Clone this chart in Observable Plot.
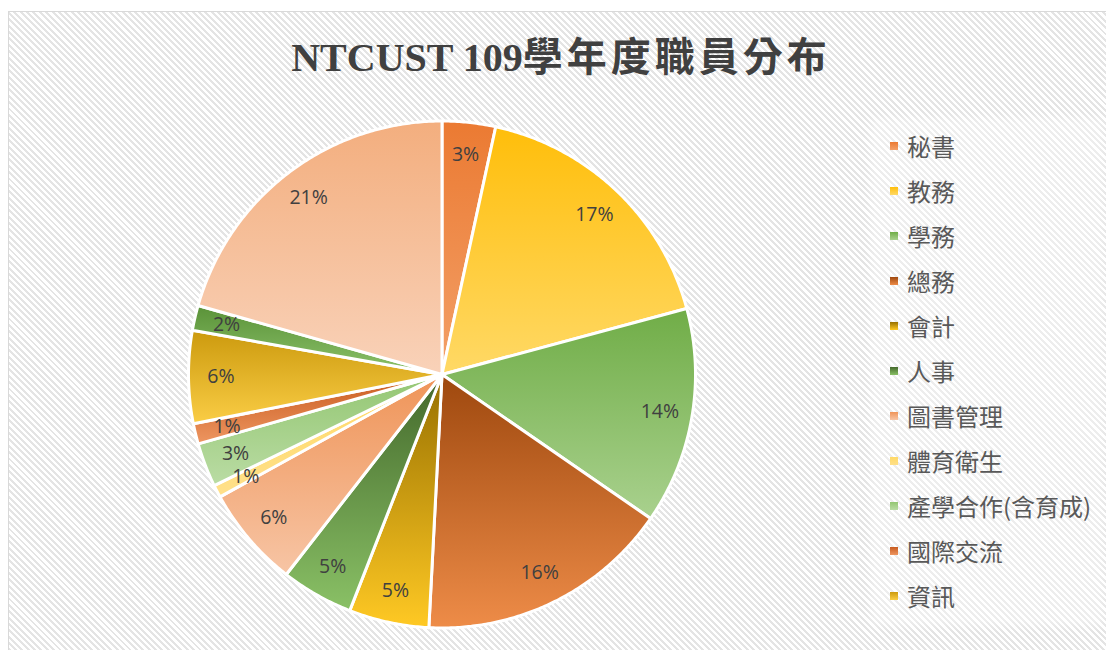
<!DOCTYPE html>
<html><head><meta charset="utf-8">
<script src="https://cdn.jsdelivr.net/npm/d3@7"></script>
<script src="https://cdn.jsdelivr.net/npm/@observablehq/plot@0.6"></script>
<style>
html,body{margin:0;padding:0;background:#fff;width:1106px;height:650px;overflow:hidden;}
#frame{position:absolute;left:8px;top:11px;width:1110px;height:660px;border:1px solid #d9d9d9;box-sizing:border-box;
  background:repeating-linear-gradient(45deg,#e4e4e4 0px,#e4e4e4 2.1px,#ffffff 2.1px,#ffffff 4.5px);}
#chart{position:absolute;left:0;top:0;}
#title{position:absolute;left:0;top:36px;width:1122px;text-align:center;font-weight:bold;font-size:40px;
  font-family:"Liberation Serif","Noto Sans CJK TC",serif;color:#404040;line-height:44px;white-space:nowrap;}
#title .cjk{letter-spacing:4px;font-weight:700;}
#legend{position:absolute;left:874px;top:122px;width:226px;height:500px;background:rgba(255,255,255,0.35);
  box-shadow:0 0 8px 4px rgba(255,255,255,0.35);}
.item{position:absolute;left:16px;height:45px;display:flex;align-items:center;font-size:24px;
  font-family:"Noto Sans CJK TC",sans-serif;color:#595959;white-space:nowrap;}
.item span{position:relative;top:-3px;}
.sw{width:8px;height:8px;margin-right:9px;flex:none;position:relative;top:-2px;}
</style></head><body>
<div id="frame"></div>
<div id="chart"></div>
<div id="legend"></div>
<div id="title"></div>
<script>
// ---- data ----
const titleLatin = "NTCUST 109";
const titleCJK = "學年度職員分布";
const categories = ["秘書","教務","學務","總務","會計","人事","圖書管理","體育衛生","產學合作(含育成)","國際交流","資訊","項目12","項目13"];
const values = [3.4, 17.4, 13.8, 16.2, 5.1, 4.6, 6.45, 0.8, 2.8, 1.3, 5.9, 1.6, 20.6];
const topColors =    ["#EB7A32","#FFBE0A","#70AD47","#9E480E","#977000","#43682B","#EF9458","#FFD966","#93C672","#C75A1E","#CC9A0E","#5A9238","#F3AE7E"];
const bottomColors = ["#F3A068","#FFD966","#A9D18E","#EE8C48","#FFC924","#8AC166","#F7C5A5","#FFE08A","#BADCA4","#EE9661","#FACD45","#8CC26B","#F9D2B9"];
const legendCount = 11;

// ---- build ----
const titleEl = document.getElementById("title");
titleEl.appendChild(document.createTextNode(titleLatin));
const cjkSpan = document.createElement("span");
cjkSpan.className = "cjk";
cjkSpan.textContent = titleCJK;
titleEl.appendChild(cjkSpan);

const total = d3.sum(values);
const arcs = d3.pie().sort(null).value(d => d)(values);
const slices = categories.map((name, i) => ({name, value: values[i], a0: arcs[i].startAngle, a1: arcs[i].endAngle}));
const polys = slices.map(s => {
  const n = Math.max(2, Math.ceil((s.a1 - s.a0) / (Math.PI / 360)));
  const pts = [{x: 0, y: 0}];
  for (let k = 0; k <= n; k++) {
    const a = s.a0 + (s.a1 - s.a0) * k / n;
    pts.push({x: Math.sin(a), y: Math.cos(a)});
  }
  return pts;
});
const labels = slices.map(s => {
  const a = (s.a0 + s.a1) / 2;
  return {x: 0.872 * Math.sin(a), y: 0.872 * Math.cos(a), text: d3.format(".0%")(s.value / total)};
});

const chart = Plot.plot({
  width: 1106, height: 650,
  marginLeft: 188, marginRight: 411, marginTop: 120.5, marginBottom: 22.5,
  x: {domain: [-1, 1], axis: null},
  y: {domain: [-1, 1], axis: null},
  style: {background: "transparent", overflow: "visible"},
  marks: [
    ...polys.map((p, i) => Plot.line(p, {x: "x", y: "y", fill: `url(#grad${i})`, stroke: "white",
      strokeWidth: 3, curve: "linear-closed", strokeLinejoin: "round"})),
    Plot.text(labels, {x: "x", y: "y", text: "text", fill: "#404040", fontSize: 19.5, fontFamily: "Open Sans"})
  ]
});
const defs = d3.select(chart).insert("defs", ":first-child");
slices.forEach((s, i) => {
  const g = defs.append("linearGradient").attr("id", "grad" + i)
    .attr("x1", 0).attr("y1", 0).attr("x2", 0).attr("y2", 1);
  g.append("stop").attr("offset", 0).attr("stop-color", topColors[i]);
  g.append("stop").attr("offset", 1).attr("stop-color", bottomColors[i]);
});
document.getElementById("chart").appendChild(chart);

const legend = document.getElementById("legend");
categories.slice(0, legendCount).forEach((name, i) => {
  const it = document.createElement("div");
  it.className = "item";
  it.style.top = (148 - 22.5 - 122 + 45 * i) + "px";
  const sw = document.createElement("div");
  sw.className = "sw";
  sw.style.background = `linear-gradient(${topColors[i]}, ${bottomColors[i]})`;
  const tx = document.createElement("span");
  tx.textContent = name;
  it.appendChild(sw); it.appendChild(tx);
  legend.appendChild(it);
});
</script>
</body></html>
